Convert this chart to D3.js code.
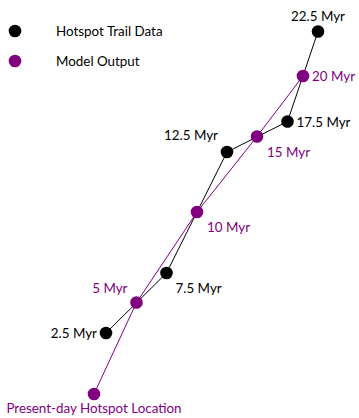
<!DOCTYPE html>
<html>
<head>
<meta charset="utf-8">
<script src="https://cdn.jsdelivr.net/npm/d3@7"></script>
<style>
  html, body { margin: 0; padding: 0; background: #fff; }
  svg { display: block; font-family: Lato, "DejaVu Sans", sans-serif; }
</style>
</head>
<body>
<svg id="chart" width="359" height="418"></svg>
<script>
// Hotspot trail: observed ages and positions (km east / km north of the present-day hotspot)
const dataAges = ["2.5 Myr", "7.5 Myr", "12.5 Myr", "17.5 Myr", "22.5 Myr"];
const dataX = [12, 72.5, 133, 193.5, 224];
const dataY = [61, 121, 242, 272.5, 362.5];

// Model-predicted positions in the same reference frame
const modelAges = ["Present-day Hotspot Location", "5 Myr", "10 Myr", "15 Myr", "20 Myr"];
const modelX = [0, 42.5, 103, 163, 209];
const modelY = [0, 91.5, 182, 257.5, 318];

const legendLabels = ["Hotspot Trail Data", "Model Output"];

const colors = { data: "#000000", model: "#800080" };

const svg = d3.select("#chart");
const x = d3.scaleLinear().domain([0, 230]).range([94, 324]);
const y = d3.scaleLinear().domain([0, 370]).range([394, 24]);

const dataPts = dataAges.map((a, i) => ({ label: a, x: dataX[i], y: dataY[i] }));
const modelPts = modelAges.map((a, i) => ({ label: a, x: modelX[i], y: modelY[i] }));

const line = d3.line().x(d => x(d.x)).y(d => y(d.y));

svg.append("path").datum(modelPts).attr("d", line)
  .attr("fill", "none").attr("stroke", colors.model).attr("stroke-width", 1);
svg.append("path").datum(dataPts).attr("d", line)
  .attr("fill", "none").attr("stroke", colors.data).attr("stroke-width", 1);

const r = 6.3;
svg.append("g").selectAll("circle").data(dataPts).join("circle")
  .attr("cx", d => x(d.x)).attr("cy", d => y(d.y)).attr("r", r).attr("fill", colors.data);
svg.append("g").selectAll("circle").data(modelPts).join("circle")
  .attr("cx", d => x(d.x)).attr("cy", d => y(d.y)).attr("r", r).attr("fill", colors.model);

// Label placement relative to each marker: [dx, dy, anchor]
const dataLabelPos = [[-9, 0, "end"], [9, 15, "start"], [-9, -17, "end"], [9, 0, "start"], [0, -16, "middle"]];
const modelLabelPos = [[0, 14, "middle"], [-9, -15, "end"], [10, 15, "start"], [10, 15, "start"], [9, 0, "start"]];

function labels(pts, pos, color) {
  svg.append("g").selectAll("text").data(pts).join("text")
    .attr("x", (d, i) => x(d.x) + pos[i][0])
    .attr("y", (d, i) => y(d.y) + pos[i][1])
    .attr("text-anchor", (d, i) => pos[i][2])
    .attr("dominant-baseline", "central")
    .attr("font-size", 13.4)
    .attr("fill", color)
    .text(d => d.label);
}
labels(dataPts, dataLabelPos, colors.data);
labels(modelPts, modelLabelPos, colors.model);

// Legend
const legend = svg.append("g").attr("transform", "translate(15,31)");
legendLabels.forEach((t, i) => {
  const g = legend.append("g").attr("transform", `translate(0,${i * 30})`);
  g.append("circle").attr("r", r).attr("fill", i === 0 ? colors.data : colors.model);
  g.append("text").attr("x", 41).attr("dominant-baseline", "central")
    .attr("font-size", 13.4).attr("fill", "#000").text(t);
});
</script>
</body>
</html>
